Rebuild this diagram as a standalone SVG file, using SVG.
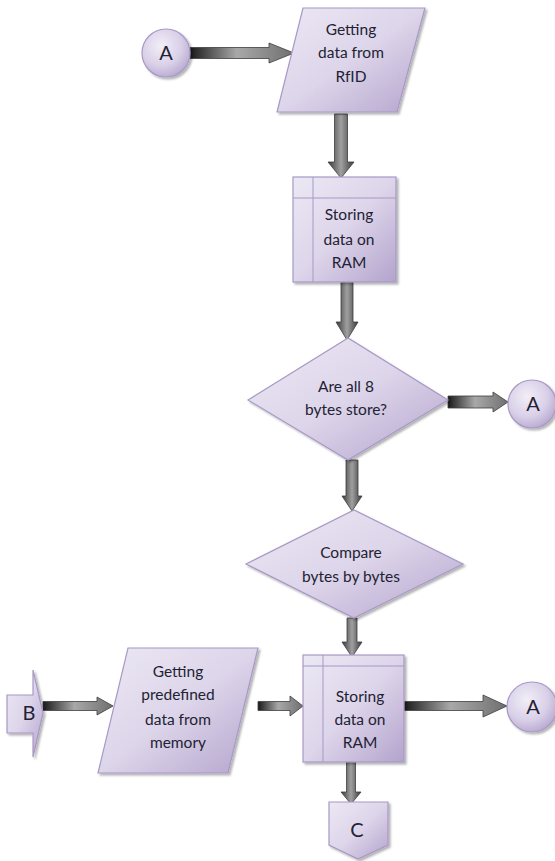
<svg xmlns="http://www.w3.org/2000/svg" width="555" height="861" viewBox="0 0 555 861">
<defs>
<linearGradient id="shapeG" x1="0" y1="0" x2="1" y2="1">
<stop offset="0" stop-color="#ece8f4"/>
<stop offset="0.5" stop-color="#ddd5ea"/>
<stop offset="1" stop-color="#b3a3cc"/>
</linearGradient>
<radialGradient id="circG" cx="0.4" cy="0.35" r="0.7">
<stop offset="0" stop-color="#f1eef7"/>
<stop offset="0.6" stop-color="#d9d0e8"/>
<stop offset="1" stop-color="#b6a7cf"/>
</radialGradient>
<linearGradient id="hArrow" x1="0" y1="0" x2="1" y2="0">
<stop offset="0" stop-color="#1a1a1a"/>
<stop offset="0.45" stop-color="#a8a8a8"/>
<stop offset="1" stop-color="#6f6f6f"/>
</linearGradient>
<linearGradient id="vArrow" x1="0" y1="0" x2="1" y2="0">
<stop offset="0" stop-color="#3a3a3a"/>
<stop offset="0.5" stop-color="#a0a0a0"/>
<stop offset="1" stop-color="#3a3a3a"/>
</linearGradient>
<filter id="sh" x="-10%" y="-10%" width="130%" height="130%">
<feDropShadow dx="2" dy="2" stdDeviation="1.2" flood-color="#000" flood-opacity="0.3"/>
</filter>
</defs>
<style>
.shape{fill:url(#shapeG);stroke:#a798c6;stroke-width:1.2;filter:url(#sh)}
.circ{fill:url(#circG);stroke:#a798c6;stroke-width:1.2;filter:url(#sh)}
.inner{stroke:#a798c6;stroke-width:1;fill:none}
.ha{fill:url(#hArrow);stroke:#3d3d3d;stroke-width:0.8}
.va{fill:url(#vArrow);stroke:#3d3d3d;stroke-width:0.8}
text{font-family:Lato,"Open Sans","Liberation Sans",sans-serif;font-size:15.5px;fill:#222233;text-anchor:middle}
.big{font-size:20px}
</style>

<g id="connectors">
<polygon class="ha" points="190,47.5 269,47.5 269,43 294,53 269,63 269,58.5 190,58.5"/>
<polygon class="va" points="334.5,114 347.5,114 347.5,162 354,162 341,178 328,162 334.5,162"/>
<polygon class="va" points="341,282 353,282 353,322 358,322 347,340 336,322 341,322"/>
<polygon class="ha" points="448,396 493,396 493,392 508,402 493,412 493,408 448,408"/>
<polygon class="va" points="346,460 358,460 358,496 362,496 352,511 342,496 346,496"/>
<polygon class="va" points="347,618 357,618 357,642 362,642 352,657 342,642 347,642"/>
<polygon class="ha" points="404,701.5 483,701.5 483,695 507,706 483,717 483,710.5 404,710.5"/>
<polygon class="va" points="346.5,762 355.5,762 355.5,792 361,792 351,804 341,792 346.5,792"/>
<polygon class="ha" points="43,701.5 97,701.5 97,697 113,706 97,715 97,710.5 43,710.5"/>
<polygon class="ha" points="258,701.5 290,701.5 290,696 303,706 290,716 290,710.5 258,710.5"/>
</g>

<g id="connA1">
<circle class="circ" cx="166" cy="53" r="24"/>
<text class="big" x="166" y="60">A</text>
</g>

<g id="getRfid">
<polygon class="shape" points="303,8 425,8 397,112 277,112"/>
<text x="351" y="35">Getting</text>
<text x="351" y="58">data from</text>
<text x="351" y="82">RfID</text>
</g>

<g id="storeRam1">
<rect class="shape" x="293" y="177" width="103" height="105"/>
<line class="inner" x1="313" y1="177" x2="313" y2="282"/>
<line class="inner" x1="293" y1="198" x2="396" y2="198"/>
<text x="349" y="220">Storing</text>
<text x="349" y="245">data on</text>
<text x="349" y="268">RAM</text>
</g>

<g id="decision1">
<polygon class="shape" points="248,400 348,338 448,400 348,460"/>
<text x="346" y="392">Are all 8</text>
<text x="346" y="415">bytes store?</text>
</g>

<g id="connA2">
<circle class="circ" cx="532" cy="404" r="24"/>
<text class="big" x="533" y="411">A</text>
</g>

<g id="compare">
<polygon class="shape" points="246,564 354,510 463,564 354,618"/>
<text x="351" y="558">Compare</text>
<text x="351" y="582">bytes by bytes</text>
</g>

<g id="connB">
<polygon class="shape" points="7,695 33,695 33,670 43,713 33,757 33,733 7,733"/>
<text class="big" x="29" y="720">B</text>
</g>

<g id="getMemory">
<polygon class="shape" points="128,648 258,648 228,773 98,773"/>
<text x="178" y="677">Getting</text>
<text x="178" y="700">predefined</text>
<text x="178" y="725">data from</text>
<text x="178" y="748">memory</text>
</g>

<g id="storeRam2">
<rect class="shape" x="303" y="655" width="101" height="107"/>
<line class="inner" x1="323" y1="655" x2="323" y2="762"/>
<line class="inner" x1="303" y1="666" x2="404" y2="666"/>
<text x="360" y="702">Storing</text>
<text x="360" y="725">data on</text>
<text x="360" y="748">RAM</text>
</g>

<g id="connA3">
<circle class="circ" cx="532" cy="707" r="25"/>
<text class="big" x="533" y="714">A</text>
</g>

<g id="connC">
<polygon class="shape" points="329,802 388,802 388,845 358,859 329,845"/>
<text class="big" x="357" y="837">C</text>
</g>
</svg>
